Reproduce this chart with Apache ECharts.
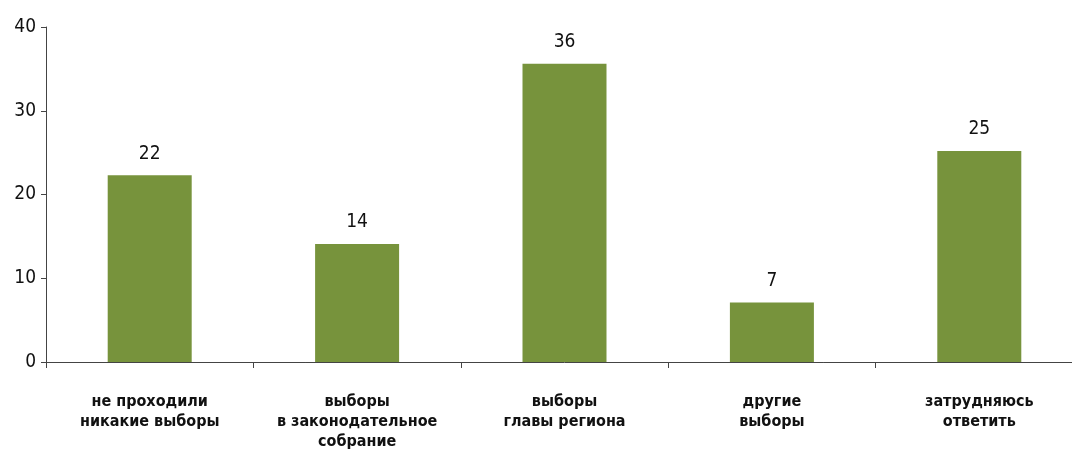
<!DOCTYPE html>
<html><head><meta charset="utf-8">
<script src="https://cdn.jsdelivr.net/npm/echarts@6/dist/echarts.min.js"></script>
<style>html,body{margin:0;padding:0;background:#fff;overflow:hidden;width:1072px;height:452px}#c{width:1084px;height:452px}</style>
</head><body><div id="c"></div>
<script>
const categories = ['не проходили\nникакие выборы', 'выборы\nв законодательное\nсобрание', 'выборы\nглавы региона', 'другие\nвыборы', 'затрудняюсь\nответить'];
const values = [22.3, 14.1, 35.6, 7.1, 25.2];
const labels = ['22', '14', '36', '7', '25'];
const yTicks = [0, 10, 20, 30, 40];
const FONT = '"Liberation Sans Narrow", "DejaVu Sans Condensed", "Noto Sans", sans-serif';
const chart = echarts.init(document.getElementById('c'));
chart.setOption({
  animation: false,
  grid: {left: 46, top: 27, right: 1, bottom: 89, containLabel: false},
  xAxis: {
    type: 'category', data: categories, boundaryGap: true,
    axisLine: {lineStyle: {color: '#444', width: 1}},
    axisTick: {show: true, alignWithLabel: false, length: 6, lineStyle: {color: '#444'}},
    axisLabel: {interval: 0, margin: 30, color: '#111', fontFamily: FONT, fontSize: 16, lineHeight: 20, fontWeight: 'bold'}
  },
  yAxis: {
    type: 'value', min: yTicks[0], max: yTicks[yTicks.length - 1], interval: 10,
    axisLine: {show: true, lineStyle: {color: '#444', width: 1}},
    axisTick: {show: true, length: 5, lineStyle: {color: '#444'}},
    splitLine: {show: false},
    axisLabel: {margin: 10, color: '#111', fontFamily: FONT, fontSize: 19, fontWeight: 'normal'}
  },
  series: [{
    type: 'bar', data: values, barWidth: '40.5%',
    itemStyle: {color: '#77933C'},
    label: {show: true, position: 'top', distance: 12, color: '#111', fontFamily: FONT, fontSize: 19, fontWeight: 'normal',
      formatter: p => labels[p.dataIndex]}
  }]
});
</script></body></html>
